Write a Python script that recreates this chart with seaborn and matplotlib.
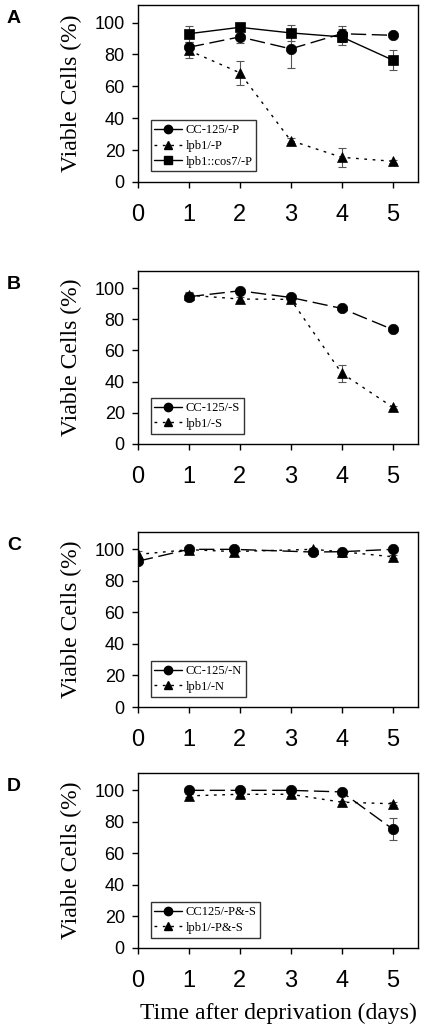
import matplotlib
matplotlib.use("Agg")
import matplotlib.pyplot as plt
from matplotlib.lines import Line2D
import seaborn as sns

# ---- data ----
days = [1, 2, 3, 4, 5]
days_n = [0, 1, 1.88, 3.43, 4, 5]

# panel A: phosphorus deprivation
cc125_p = [84.5, 91, 83.5, 93, 92]
cc125_p_err = [2, 4, 12, 5, 1]
lpb1_p = [82.5, 68.5, 26, 15.5, 13]
lpb1_p_err = [5, 7.5, 1.5, 6, 1]
cos7_p = [93, 97, 93.5, 91, 76.5]
cos7_p_err = [5, 1.5, 5, 5, 6]

# panel B: sulfur deprivation
cc125_s = [94.5, 98.3, 94, 87, 73.5]
cc125_s_err = [2.5, 1, 1, 1, 1]
lpb1_s = [95.5, 93, 92.8, 45.5, 23.7]
lpb1_s_err = [2, 1, 1, 5.5, 1]

# panel C: nitrogen deprivation
cc125_n = [92.5, 100, 100, 98.3, 98.5, 100]
cc125_n_err = [2, 1, 1, 1, 1, 1]
lpb1_n = [96.8, 99.8, 98.6, 100, 98.5, 95.3]
lpb1_n_err = [2, 1, 1, 1, 1, 1]

# panel D: P & S deprivation
cc125_ps = [100, 100, 100, 99, 75.5]
cc125_ps_err = [1, 1, 1, 1, 7]
lpb1_ps = [96.5, 97.5, 97.5, 92.5, 91.5]
lpb1_ps_err = [1, 1, 1, 1, 1]

panel_letters = ["A", "B", "C", "D"]
legend_labels = [
    ["CC-125/-P", "lpb1/-P", "lpb1::cos7/-P"],
    ["CC-125/-S", "lpb1/-S"],
    ["CC-125/-N", "lpb1/-N"],
    ["CC125/-P&-S", "lpb1/-P&-S"],
]
y_ticks = [0, 20, 40, 60, 80, 100]
x_ticks = [0, 1, 2, 3, 4, 5]

# line styles per strain
DASH = (0, (11, 4))
DOT = (0, (2, 4))
styles = {
    "wt": dict(marker="o", linestyle=DASH),
    "mut": dict(marker="^", linestyle=DOT),
    "comp": dict(marker="s", linestyle="-"),
}
legend_ls = {"wt": "-", "mut": DOT, "comp": "-"}

panels = [
    [("wt", days, cc125_p, cc125_p_err),
     ("mut", days, lpb1_p, lpb1_p_err),
     ("comp", days, cos7_p, cos7_p_err)],
    [("wt", days, cc125_s, cc125_s_err),
     ("mut", days, lpb1_s, lpb1_s_err)],
    [("wt", days_n, cc125_n, cc125_n_err),
     ("mut", days_n, lpb1_n, lpb1_n_err)],
    [("wt", days, cc125_ps, cc125_ps_err),
     ("mut", days, lpb1_ps, lpb1_ps_err)],
]

# axes boxes in pixels (top, bottom) for a 428x1034 figure
W, H = 428, 1034
boxes = [(5, 182), (271, 444), (532, 707), (773, 948)]
left_px, right_px = 138, 418

sns.set_theme(style="ticks")
plt.rcParams["font.family"] = ["Liberation Sans", "DejaVu Sans"]
plt.rcParams.update({"text.color": "black", "axes.labelcolor": "black",
                     "xtick.color": "black", "ytick.color": "black"})

fig = plt.figure(figsize=(W / 100, H / 100), dpi=100)

for i, (top, bottom) in enumerate(boxes):
    ax = fig.add_axes([left_px / W, 1 - bottom / H,
                       (right_px - left_px) / W, (bottom - top) / H])
    handles = []
    for key, xs, ys, errs in panels[i]:
        st = styles[key]
        ax.errorbar(xs, ys, yerr=errs, fmt="none", ecolor="#555555",
                    elinewidth=0.8, capsize=3, capthick=0.8, zorder=1)
        sns.lineplot(x=xs, y=ys, ax=ax, color="black", marker=st["marker"],
                     linestyle=st["linestyle"], linewidth=1.0, markersize=7.5,
                     markeredgecolor="black", markeredgewidth=0.5, zorder=2)
        handles.append(Line2D([], [], color="black", marker=st["marker"],
                              linestyle=legend_ls[key], linewidth=1.0,
                              markersize=6))

    ax.set_xlim(0, 5.5)
    ax.set_ylim(0, 111)
    ax.set_xticks(x_ticks)
    ax.set_yticks(y_ticks)
    ax.tick_params(axis="y", labelsize=13, direction="out", length=4.5,
                   width=1, pad=5, color="black", labelcolor="black")
    ax.tick_params(axis="x", labelsize=17, direction="out", length=4.5,
                   width=1, pad=11, color="black", labelcolor="black")
    for sp in ax.spines.values():
        sp.set_visible(True)
        sp.set_color("black")
        sp.set_linewidth(1.0)

    ax.set_ylabel("Viable Cells (%)", family="Liberation Serif", fontsize=17,
                  labelpad=9, color="black")
    ax.set_xlabel("")

    leg = ax.legend(handles, legend_labels[i], loc="lower left",
                    bbox_to_anchor=(0.045, 0.06), borderaxespad=0,
                    frameon=True, fancybox=False, handlelength=2.2,
                    handletextpad=0.3, borderpad=0.3, labelspacing=0.3,
                    prop={"family": "Liberation Serif", "size": 9})
    leg.get_frame().set_edgecolor("black")
    leg.get_frame().set_linewidth(1.0)
    for t in leg.get_texts():
        t.set_color("black")

    fig.text(7 / W, 1 - (top + 18) / H, panel_letters[i], fontsize=14,
             fontweight="bold", ha="left", va="baseline", color="black")

fig.text((left_px + right_px) / 2 / W, 1 - 1013 / H,
         "Time after deprivation (days)", family="Liberation Serif",
         fontsize=17, ha="center", va="center", color="black")

fig.savefig("out.png", dpi=100)
